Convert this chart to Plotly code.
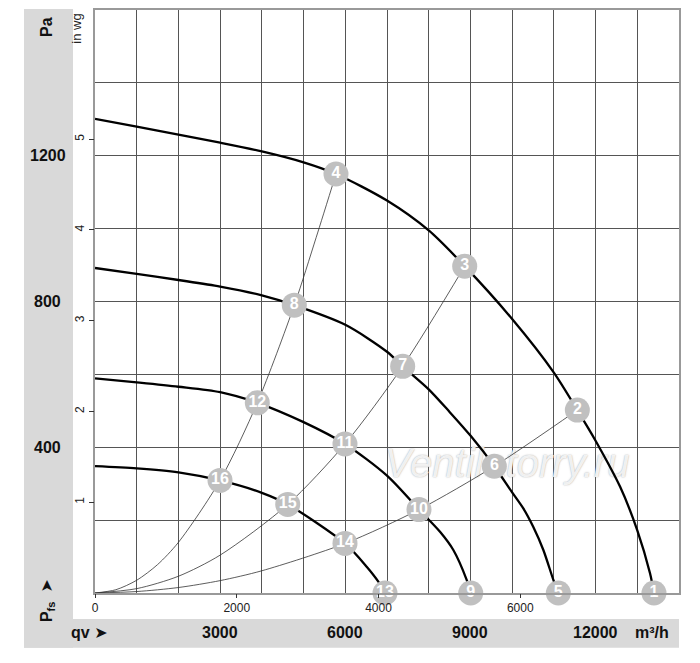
import plotly.graph_objects as go

# fan curves: air flow qv (m3/h) vs static pressure pfs (Pa)
curve_a_q = [0, 1000, 2000, 3000, 4000, 5000, 5777, 7000, 8000, 8863,
             10000, 11000, 11563, 12000, 12586, 13000, 13305, 13400]
curve_a_p = [1301, 1280, 1258, 1236, 1212, 1182, 1150, 1077, 995, 897,
             752, 605, 502, 418, 292, 172, 54, 0]

curve_b_q = [0, 1000, 2000, 3000, 4000, 4778, 6000, 7000, 7376, 8000, 8500,
             9000, 9573, 10000, 10268, 10508, 10748, 10988, 11107]
curve_b_p = [892, 876, 859, 841, 817, 790, 736, 662, 622, 559, 497,
             432, 348, 276, 232, 181, 118, 36, 0]

curve_c_q = [0, 1000, 2000, 3000, 3891, 5000, 5993, 7000, 7767, 8271, 8590, 8910, 9007]
curve_c_p = [589, 578, 566, 551, 522, 469, 409, 322, 229, 168, 118, 36, 0]

curve_d_q = [0, 1000, 2000, 2997, 4000, 4620, 5993, 6513, 6792, 6952]
curve_d_p = [348, 342, 331, 309, 275, 243, 136, 72, 31, 0]

# system curves through the operating points
sys_1_q = [0, 500, 1000, 1500, 2000, 2997, 3891, 4778, 5300, 5777]
sys_1_p = [0, 9, 35, 78, 139, 309, 522, 790, 975, 1150]
sys_2_q = [0, 1000, 2000, 3000, 4620, 5993, 7376, 8863]
sys_2_p = [0, 12, 46, 104, 243, 409, 622, 897]
sys_3_q = [0, 1000, 2000, 3000, 4000, 5993, 7767, 9573, 11563]
sys_3_p = [0, 4, 15, 34, 61, 136, 229, 348, 502]

# numbered operating points
point_ids = [str(i) for i in range(1, 17)]
point_q = [13400, 11563, 8863, 5777, 11107, 9573, 7376, 4778,
           9007, 7767, 5993, 3891, 6952, 5993, 4620, 2997]
point_p = [0, 502, 897, 1150, 0, 348, 622, 790,
           0, 229, 409, 522, 0, 136, 243, 309]

pa_ticks = [400, 800, 1200]
m3h_ticks = [3000, 6000, 9000, 12000]
cfm_ticks = [0, 2000, 4000, 6000]
inwg_ticks = [1, 2, 3, 4, 5]

Q_MAX = 14000
P_MAX = 1600
M3H_PER_CFM = 1.69901
PA_PER_INWG = 249.089

FONT = "Liberation Sans, Arial, sans-serif"
BAND = "#d9d9d9"
BOLD = dict(family=FONT, size=16, color="#111111", weight="bold")

fig = go.Figure()

# watermark goes under the curves and the numbered points
fig.add_trace(go.Scatter(x=[9880], y=[347], mode="text", text=["Ventilatorry.ru"],
                         textfont=dict(family=FONT, size=40, style="italic",
                                       color="rgba(255,255,255,0.85)",
                                       shadow="0px 0px 1.5px #8c8c8c"),
                         cliponaxis=False, hoverinfo="skip"))

for q, p in [(sys_1_q, sys_1_p), (sys_2_q, sys_2_p), (sys_3_q, sys_3_p)]:
    fig.add_trace(go.Scatter(x=q, y=p, mode="lines", hoverinfo="skip",
                             line=dict(color="#333333", width=0.8, shape="spline", smoothing=0.8)))

for q, p in [(curve_a_q, curve_a_p), (curve_b_q, curve_b_p),
             (curve_c_q, curve_c_p), (curve_d_q, curve_d_p)]:
    fig.add_trace(go.Scatter(x=q, y=p, mode="lines", hoverinfo="skip",
                             line=dict(color="#000000", width=2.3, shape="spline", smoothing=0.8)))

# "cfm" unit label sits under marker 1, so it is a trace
fig.add_trace(go.Scatter(x=[8000], y=[-31], mode="text", text=["cfm"], xaxis="x2",
                         textfont=dict(family=FONT, size=12, color="#222222"),
                         cliponaxis=False, hoverinfo="skip"))

fig.add_trace(go.Scatter(x=point_q, y=point_p, mode="markers+text", text=point_ids,
                         textposition="middle center", cliponaxis=False,
                         marker=dict(size=25, color="#c0c0c0", line=dict(width=0)),
                         textfont=dict(family=FONT, size=16, color="white", weight="bold"),
                         hoverinfo="skip"))

# invisible trace so the in wg axis gets drawn
fig.add_trace(go.Scatter(x=[0], y=[0], yaxis="y2", mode="markers",
                         marker=dict(opacity=0), hoverinfo="skip"))

shapes = [
    dict(type="rect", xref="paper", yref="paper", x0=-0.1216, x1=-0.0377, y0=-0.094, y1=1.0017,
         fillcolor=BAND, line=dict(width=0), layer="below"),
    dict(type="rect", xref="paper", yref="paper", x0=-0.1216, x1=1.0, y0=-0.094, y1=-0.0444,
         fillcolor=BAND, line=dict(width=0), layer="below"),
]

annotations = []
for v in pa_ticks:
    annotations.append(dict(x=-0.0805, xref="paper", y=v, yref="y", text=str(v), font=BOLD))
for v in m3h_ticks:
    annotations.append(dict(x=v, xref="x", y=-0.0684, yref="paper", text=str(v), font=BOLD))
annotations += [
    dict(x=-0.0822, xref="paper", y=0.971, yref="paper", text="Pa", textangle=-90, font=BOLD),
    dict(x=-0.0308, xref="paper", y=0.968, yref="paper", text="in wg", textangle=-90,
         font=dict(family=FONT, size=13, color="#222222")),
    dict(x=-0.082, xref="paper", y=-0.0137, yref="paper",
         text="P<sub>fs</sub>  <span style='font-family:DejaVu Sans'>➤</span>",
         textangle=-90, font=BOLD),
    dict(x=-0.0086, xref="paper", y=-0.0684, yref="paper",
         text="qv <span style='font-family:DejaVu Sans'>➤</span>", font=BOLD),
    dict(x=0.954, xref="paper", y=-0.0684, yref="paper", text="m³/h", font=BOLD),
]
for a in annotations:
    a.update(showarrow=False, xanchor="center", yanchor="middle")

# the page body adds 8px, so the margins are shifted to keep the plot box in place
fig.update_layout(
    width=700, height=663,
    margin=dict(l=87, r=29, t=0, b=78),
    paper_bgcolor="white", plot_bgcolor="white",
    showlegend=False,
    shapes=shapes,
    annotations=annotations,
    xaxis=dict(range=[0, Q_MAX], dtick=1000, showgrid=True, gridcolor="#555555", gridwidth=1,
               showticklabels=False, zeroline=False, showline=True, mirror=True,
               linecolor="#999999", linewidth=1.5, fixedrange=True),
    yaxis=dict(range=[0, P_MAX], dtick=200, showgrid=True, gridcolor="#555555", gridwidth=1,
               showticklabels=False, zeroline=False, showline=True, mirror=True,
               linecolor="#999999", linewidth=1.5, fixedrange=True),
    xaxis2=dict(overlaying="x", anchor="y", side="bottom", range=[0, Q_MAX / M3H_PER_CFM],
                tickvals=cfm_ticks, ticks="outside", ticklen=4, tickcolor="#333333",
                showgrid=False, zeroline=False, showline=False,
                tickfont=dict(family=FONT, size=12, color="#222222")),
    yaxis2=dict(overlaying="y", anchor="x", side="left", range=[0, P_MAX / PA_PER_INWG],
                tickvals=inwg_ticks, ticks="outside", ticklen=5, tickcolor="#333333", tickangle=-90,
                showgrid=False, zeroline=False, showline=False,
                tickfont=dict(family=FONT, size=12, color="#222222")),
)

fig.write_html("out.html")
